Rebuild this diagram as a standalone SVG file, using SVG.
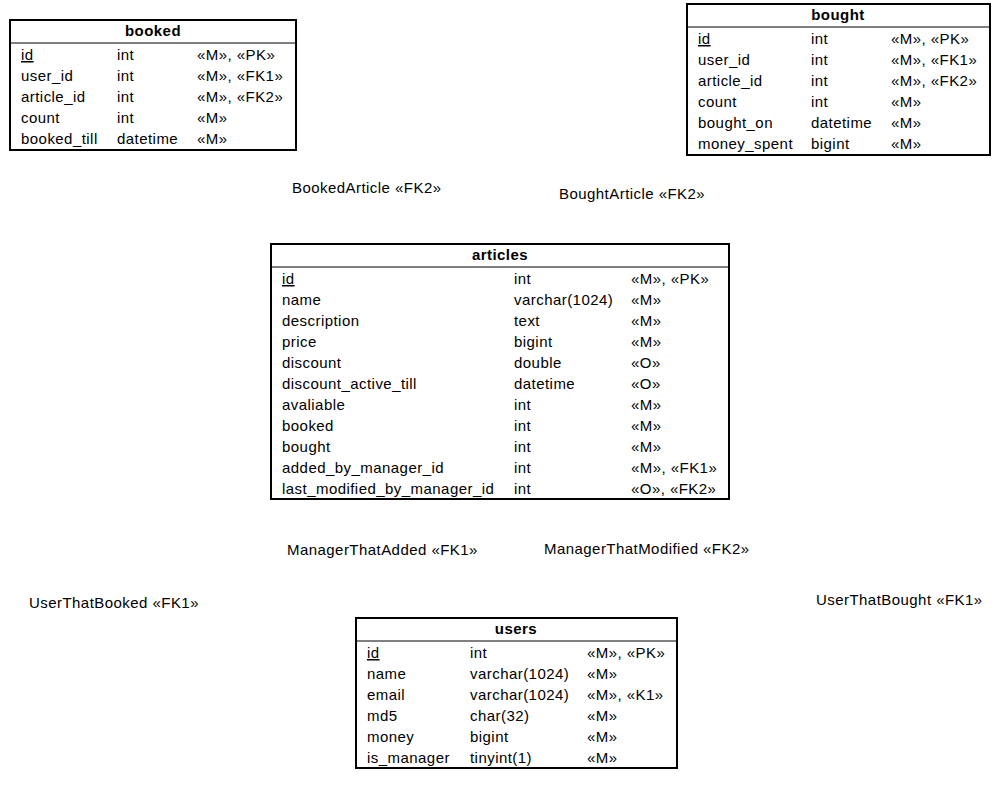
<svg xmlns="http://www.w3.org/2000/svg" width="1008" height="804" viewBox="0 0 1008 804">
<style>
text{font-family:"Liberation Sans",Arial,sans-serif;font-size:15px;letter-spacing:0.45px;fill:#000}
.t{font-weight:bold;text-anchor:middle}
.box{fill:#fff;stroke:#000;stroke-width:2}
.sep{stroke:#000;stroke-width:1}
.u{text-decoration:underline}
</style>
<rect width="1008" height="804" fill="#fff"/>
<g id="booked">
<rect class="box" x="10" y="20" width="286" height="130"/>
<line class="sep" x1="10" y1="43" x2="296" y2="43"/>
<text class="t" x="153" y="36">booked</text>
<text x="21" y="60" class="u">id</text><text x="117" y="60">int</text><text x="197" y="60">«M», «PK»</text>
<text x="21" y="81">user_id</text><text x="117" y="81">int</text><text x="197" y="81">«M», «FK1»</text>
<text x="21" y="102">article_id</text><text x="117" y="102">int</text><text x="197" y="102">«M», «FK2»</text>
<text x="21" y="123">count</text><text x="117" y="123">int</text><text x="197" y="123">«M»</text>
<text x="21" y="144">booked_till</text><text x="117" y="144">datetime</text><text x="197" y="144">«M»</text>
</g>
<g id="bought">
<rect class="box" x="687" y="4" width="303" height="151"/>
<line class="sep" x1="687" y1="27" x2="990" y2="27"/>
<text class="t" x="838" y="20">bought</text>
<text x="698" y="44" class="u">id</text><text x="811" y="44">int</text><text x="891" y="44">«M», «PK»</text>
<text x="698" y="65">user_id</text><text x="811" y="65">int</text><text x="891" y="65">«M», «FK1»</text>
<text x="698" y="86">article_id</text><text x="811" y="86">int</text><text x="891" y="86">«M», «FK2»</text>
<text x="698" y="107">count</text><text x="811" y="107">int</text><text x="891" y="107">«M»</text>
<text x="698" y="128">bought_on</text><text x="811" y="128">datetime</text><text x="891" y="128">«M»</text>
<text x="698" y="149">money_spent</text><text x="811" y="149">bigint</text><text x="891" y="149">«M»</text>
</g>
<g id="articles">
<rect class="box" x="271" y="244" width="458" height="255"/>
<line class="sep" x1="271" y1="267" x2="729" y2="267"/>
<text class="t" x="500" y="260">articles</text>
<text x="282" y="284" class="u">id</text><text x="514" y="284">int</text><text x="631" y="284">«M», «PK»</text>
<text x="282" y="305">name</text><text x="514" y="305">varchar(1024)</text><text x="631" y="305">«M»</text>
<text x="282" y="326">description</text><text x="514" y="326">text</text><text x="631" y="326">«M»</text>
<text x="282" y="347">price</text><text x="514" y="347">bigint</text><text x="631" y="347">«M»</text>
<text x="282" y="368">discount</text><text x="514" y="368">double</text><text x="631" y="368">«O»</text>
<text x="282" y="389">discount_active_till</text><text x="514" y="389">datetime</text><text x="631" y="389">«O»</text>
<text x="282" y="410">avaliable</text><text x="514" y="410">int</text><text x="631" y="410">«M»</text>
<text x="282" y="431">booked</text><text x="514" y="431">int</text><text x="631" y="431">«M»</text>
<text x="282" y="452">bought</text><text x="514" y="452">int</text><text x="631" y="452">«M»</text>
<text x="282" y="473">added_by_manager_id</text><text x="514" y="473">int</text><text x="631" y="473">«M», «FK1»</text>
<text x="282" y="494">last_modified_by_manager_id</text><text x="514" y="494">int</text><text x="631" y="494">«O», «FK2»</text>
</g>
<g id="users">
<rect class="box" x="356" y="618" width="321" height="150"/>
<line class="sep" x1="356" y1="641" x2="677" y2="641"/>
<text class="t" x="516" y="634">users</text>
<text x="367" y="658" class="u">id</text><text x="470" y="658">int</text><text x="587" y="658">«M», «PK»</text>
<text x="367" y="679">name</text><text x="470" y="679">varchar(1024)</text><text x="587" y="679">«M»</text>
<text x="367" y="700">email</text><text x="470" y="700">varchar(1024)</text><text x="587" y="700">«M», «K1»</text>
<text x="367" y="721">md5</text><text x="470" y="721">char(32)</text><text x="587" y="721">«M»</text>
<text x="367" y="742">money</text><text x="470" y="742">bigint</text><text x="587" y="742">«M»</text>
<text x="367" y="763">is_manager</text><text x="470" y="763">tinyint(1)</text><text x="587" y="763">«M»</text>
</g>
<g id="connectors">
<text x="292" y="193">BookedArticle «FK2»</text>
<text x="559" y="199">BoughtArticle «FK2»</text>
<text x="287" y="555">ManagerThatAdded «FK1»</text>
<text x="544" y="554">ManagerThatModified «FK2»</text>
<text x="29" y="608">UserThatBooked «FK1»</text>
<text x="816" y="605">UserThatBought «FK1»</text>
</g>
</svg>
